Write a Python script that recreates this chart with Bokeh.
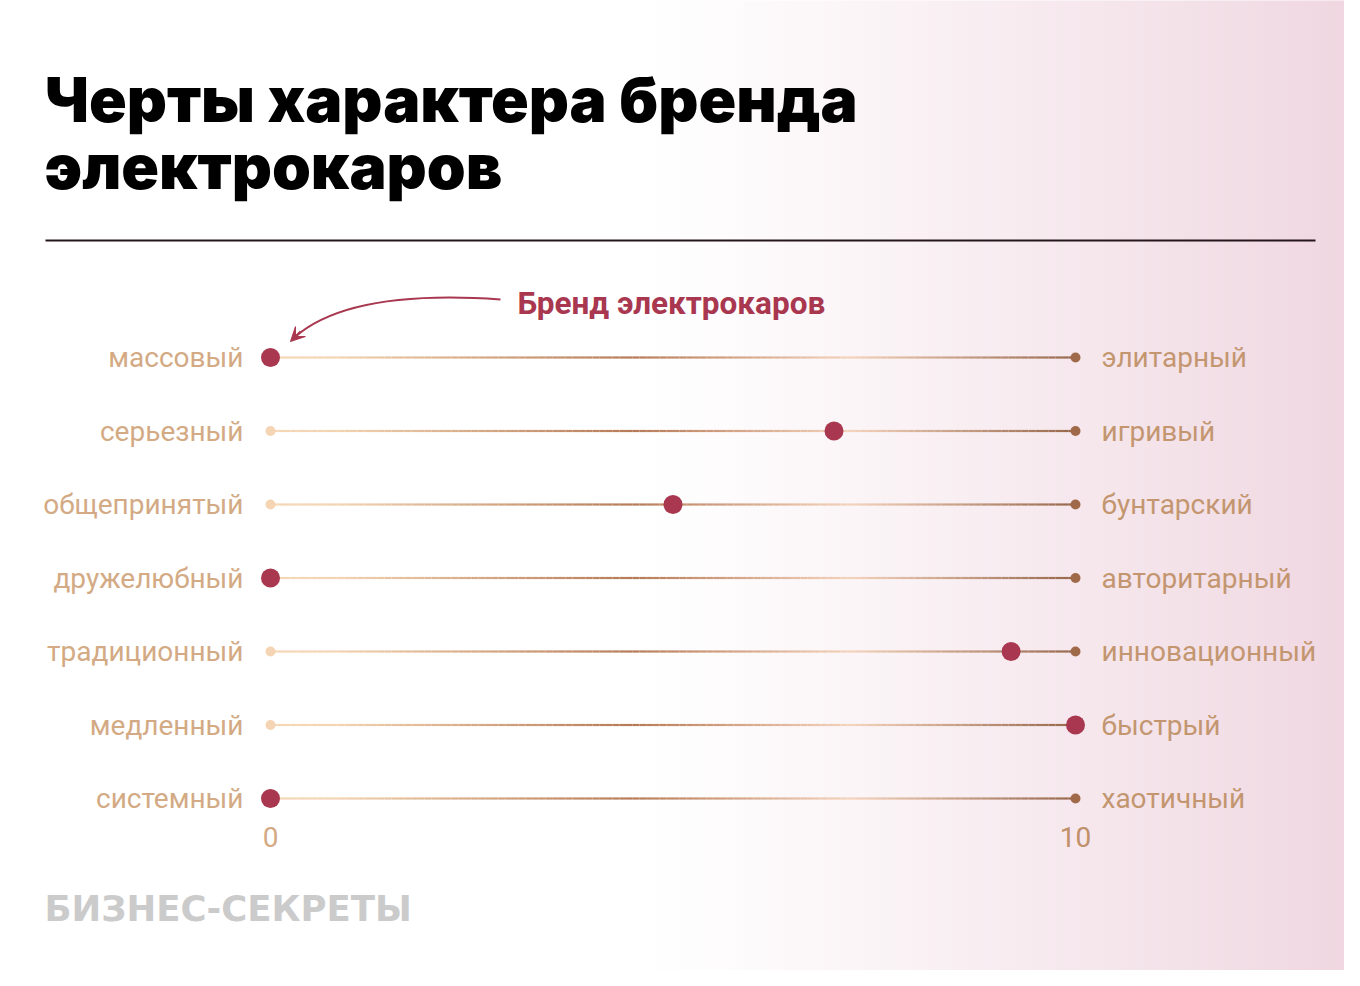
import numpy as np
from bokeh.plotting import figure
from bokeh.models import Range1d, Arrow, VeeHead
from bokeh.core.properties import value
from bokeh.embed import file_html
from bokeh.resources import INLINE

# ---------------- data ----------------
left_labels = ["массовый", "серьезный", "общепринятый", "дружелюбный",
               "традиционный", "медленный", "системный"]
right_labels = ["элитарный", "игривый", "бунтарский", "авторитарный",
                "инновационный", "быстрый", "хаотичный"]
scores = [0, 7, 5, 0, 9.2, 10, 0]
scale_min = 0
scale_max = 10
tick_values = [0, 10]
tick_labels = ["0", "10"]
title_lines = ["Черты характера бренда", "электрокаров"]
series_name = "Бренд электрокаров"
source_name = "БИЗНЕС-СЕКРЕТЫ"

# ---------------- layout helpers (reference pixel -> data) ----------------
W, H = 1344, 970
PX_X0, PX_PER_X = 270.0, 80.5      # screen x of value 0, px per unit
PX_Y0, PX_PER_ROW = 357.0, 73.5    # screen y of row 0, px per row
OFF = 0


def dx(X):
    return (X - PX_X0) / PX_PER_X


def dy(Y):
    return (Y - PX_Y0) / PX_PER_ROW


p = figure(width=W, height=H, output_backend="svg", toolbar_location=None,
           x_range=Range1d(dx(OFF), dx(OFF + W)),
           y_range=Range1d(dy(OFF + H), dy(OFF)),
           min_border=0)
p.axis.visible = False
p.grid.visible = False
p.outline_line_color = None
p.background_fill_color = "white"
p.border_fill_color = "white"

# ---------------- background gradient ----------------
n_strips = 170
edges = np.linspace(0, 1360, n_strips + 1)
pink = np.array([239, 214, 224])
white = np.array([255, 255, 255])
cols = []
for a, b in zip(edges[:-1], edges[1:]):
    m = 0.5 * (a + b)
    t = np.clip((m - 640) / (1360 - 640), 0, 1) ** 1.15
    c = white * (1 - t) + pink * t
    cols.append("#%02x%02x%02x" % tuple(int(round(v)) for v in c))
p.quad(left=[dx(a) for a in edges[:-1]], right=[dx(b + 0.5) for b in edges[1:]],
       bottom=dy(1000), top=dy(-20), fill_color=cols, line_color=None)

# ---------------- title, rule ----------------
title_font = value("'Inter Black', 'Roboto Black', Inter")
p.text(x=[dx(44)], y=[dy(99)], text=[title_lines[0]], text_font=title_font,
       text_font_style="bold", text_font_size="62.3px", text_color="#000000",
       text_baseline="alphabetic", text_align="left")
p.text(x=[dx(44)], y=[dy(166)], text=[title_lines[1]], text_font=title_font,
       text_font_style="bold", text_font_size="62.3px", text_color="#000000",
       text_baseline="alphabetic", text_align="left")
p.segment(x0=[dx(45)], y0=[dy(240)], x1=[dx(1315)], y1=[dy(240)],
          line_color="#24161a", line_width=2)

# ---------------- gradient lines ----------------
stops_t = [0.0, 0.08, 0.45, 0.72, 1.0]
stops_c = np.array([[245, 215, 182], [243, 212, 178], [182, 122, 86],
                    [244, 211, 188], [150, 102, 74]])
N = 120
rows = list(range(len(left_labels)))
sx0, sy0, sx1, sy1, sc = [], [], [], [], []
for r in rows:
    xs = np.linspace(scale_min, scale_max, N + 1)
    for i in range(N):
        t = (i + 0.5) / N
        c = [np.interp(t, stops_t, stops_c[:, k]) for k in range(3)]
        sx0.append(xs[i]); sx1.append(xs[i + 1])
        sy0.append(r); sy1.append(r)
        sc.append("#%02x%02x%02x" % tuple(int(round(v)) for v in c))
p.segment(x0=sx0, y0=sy0, x1=sx1, y1=sy1, line_color=sc, line_width=2.2)

# end dots
p.scatter(x=[scale_min] * len(rows), y=rows, size=10, fill_color="#f5d4b3",
          line_color=None)
p.scatter(x=[scale_max] * len(rows), y=rows, size=10, fill_color="#a06a4a",
          line_color=None)
# score dots
p.scatter(x=scores, y=rows, size=19, fill_color="#a8374f", line_color=None)

# ---------------- labels ----------------
p.text(x=[dx(243)] * len(rows), y=rows, text=left_labels, text_font=value("Roboto"),
       text_font_size="28px", text_color="#d3aa84", text_align="right",
       text_baseline="middle")
p.text(x=[dx(1101)] * len(rows), y=rows, text=right_labels, text_font=value("Roboto"),
       text_font_size="28px", text_color="#c39670", text_align="left",
       text_baseline="middle")
p.text(x=tick_values, y=[dy(836)] * 2, text=tick_labels, text_font=value("Roboto"),
       text_font_size="28px", text_color=["#d4aa85", "#c09068"], text_align="center",
       text_baseline="middle")

# ---------------- annotation ----------------
p.text(x=[dx(517)], y=[dy(303)], text=[series_name], text_font=value("Roboto"),
       text_font_style="bold", text_font_size="31.5px", text_color="#a8374f",
       text_align="left", text_baseline="middle")
p.bezier(x0=[dx(500)], y0=[dy(299)], x1=[dx(294)], y1=[dy(337)],
         cx0=[dx(400)], cy0=[dy(292)], cx1=[dx(330)], cy1=[dy(305)],
         line_color="#a8374f", line_width=2)
p.add_layout(Arrow(x_start=dx(300), y_start=dy(331), x_end=dx(290), y_end=dy(341),
                   line_color="#a8374f", line_width=2,
                   end=VeeHead(size=14, fill_color="#a8374f", line_color="#a8374f")))

# ---------------- source ----------------
p.text(x=[dx(44)], y=[dy(908)], text=[source_name], text_font=value("DejaVu Sans"),
       text_font_style="bold", text_font_size="35.5px", text_color="#cbcbcb",
       text_align="left", text_baseline="middle")

open("out.html", "w").write(file_html(p, INLINE))
